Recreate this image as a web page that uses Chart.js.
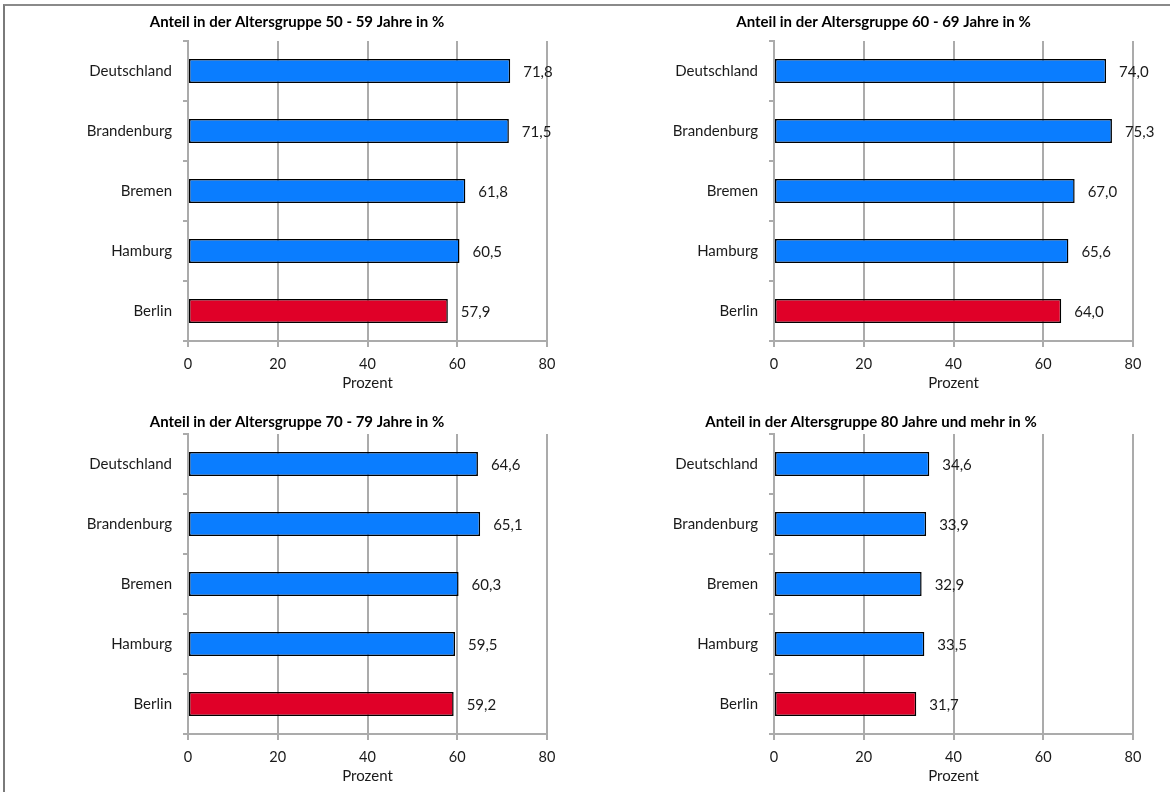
<!DOCTYPE html>
<html lang="de">
<head>
<meta charset="utf-8">
<title>Anteil nach Altersgruppen</title>
<script src="https://cdn.jsdelivr.net/npm/chart.js@4.4.1/dist/chart.umd.min.js"></script>
<style>
  html, body { margin: 0; padding: 0; background: #ffffff; }
  body { width: 1170px; height: 792px; position: relative; overflow: hidden; }
  #frame { position: absolute; left: 3px; top: 4px; width: 1200px; height: 800px;
           border-left: 2px solid #7a7a7a; border-top: 2px solid #8a8a8a; box-sizing: border-box; }
  canvas { position: absolute; }
</style>
</head>
<body>
<div id="frame"></div>
<canvas id="c1"></canvas>
<canvas id="c2"></canvas>
<canvas id="c3"></canvas>
<canvas id="c4"></canvas>
<script>
// Regions shown in every panel, top to bottom
const categories = ['Deutschland', 'Brandenburg', 'Bremen', 'Hamburg', 'Berlin'];

// Share per age group in percent
const values5059 = [71.8, 71.5, 61.8, 60.5, 57.9];
const values6069 = [74.0, 75.3, 67.0, 65.6, 64.0];
const values7079 = [64.6, 65.1, 60.3, 59.5, 59.2];
const values80plus = [34.6, 33.9, 32.9, 33.5, 31.7];

const panelTitles = [
  'Anteil in der Altersgruppe 50 - 59 Jahre in %',
  'Anteil in der Altersgruppe 60 - 69 Jahre in %',
  'Anteil in der Altersgruppe 70 - 79 Jahre in %',
  'Anteil in der Altersgruppe 80 Jahre und mehr in %'
];
const xTicks = [0, 20, 40, 60, 80];
const xAxisTitle = 'Prozent';

const FONT = 'Lato, "Open Sans", sans-serif';
const BLUE = '#0a7dff';
const RED = '#e00028';
const GRID = '#ababab';
const TEXT = '#1a1a1a';

// Berlin is highlighted in red
const barColors = categories.map(c => c === 'Berlin' ? RED : BLUE);

const fmt = v => v.toFixed(1).replace('.', ',');

// Value labels written to the right of each bar
const valueLabels = {
  id: 'valueLabels',
  afterDatasetsDraw(chart) {
    const ctx = chart.ctx;
    const meta = chart.getDatasetMeta(0);
    const data = chart.data.datasets[0].data;
    ctx.save();
    ctx.font = '15px ' + FONT;
    ctx.fillStyle = TEXT;
    ctx.textAlign = 'left';
    ctx.textBaseline = 'middle';
    meta.data.forEach((bar, i) => {
      ctx.fillText(fmt(data[i]), bar.x + 13, bar.y + 1);
    });
    ctx.restore();
  }
};

// Panel geometry: canvas box, paddings, width of the category axis
const panels = [
  { id: 'c1', values: values5059,  title: panelTitles[0], left: 0,   top: 0,   w: 594, h: 396, pl: 47, yw: 141, pr: 47, pb: 4, tpt: 13, tpb: 10 },
  { id: 'c2', values: values6069,  title: panelTitles[1], left: 596, top: 0,   w: 574, h: 396, pl: 38, yw: 140, pr: 37, pb: 4, tpt: 13, tpb: 10 },
  { id: 'c3', values: values7079,  title: panelTitles[2], left: 0,   top: 396, w: 594, h: 396, pl: 47, yw: 141, pr: 47, pb: 7, tpt: 17, tpb: 3 },
  { id: 'c4', values: values80plus, title: panelTitles[3], left: 572, top: 396, w: 598, h: 396, pl: 37, yw: 165, pr: 37, pb: 7, tpt: 17, tpb: 3 }
];

panels.forEach(p => {
  const canvas = document.getElementById(p.id);
  canvas.width = p.w;
  canvas.height = p.h;
  canvas.style.left = p.left + 'px';
  canvas.style.top = p.top + 'px';
  canvas.style.width = p.w + 'px';
  canvas.style.height = p.h + 'px';

  new Chart(canvas, {
    type: 'bar',
    data: {
      labels: categories,
      datasets: [{
        data: p.values,
        backgroundColor: barColors,
        borderColor: '#000000',
        borderWidth: 1.5,
        borderSkipped: false,
        categoryPercentage: 1.0,
        barPercentage: 0.4
      }]
    },
    options: {
      indexAxis: 'y',
      responsive: false,
      animation: false,
      devicePixelRatio: 1,
      layout: { padding: { left: p.pl, top: 0, right: p.pr, bottom: p.pb } },
      plugins: {
        legend: { display: false },
        tooltip: { enabled: false },
        title: {
          display: true,
          text: p.title,
          color: '#000000',
          font: { family: FONT, size: 15, weight: 'bold', lineHeight: 1.2 },
          padding: { top: p.tpt, bottom: p.tpb }
        }
      },
      scales: {
        x: {
          type: 'linear',
          min: 0,
          max: 80,
          afterBuildTicks(scale) { scale.ticks = xTicks.map(v => ({ value: v })); },
          afterFit(scale) { scale.height = 51; },
          grid: { color: GRID, lineWidth: 2, drawTicks: true, tickLength: 6, tickColor: GRID },
          border: { display: true, color: GRID, width: 2 },
          ticks: { color: TEXT, font: { family: FONT, size: 14.5 }, padding: 9 },
          title: { display: true, text: xAxisTitle, color: TEXT, font: { family: FONT, size: 15, lineHeight: 1.2 }, padding: { top: 0, bottom: 0 } }
        },
        y: {
          type: 'category',
          offset: true,
          afterFit(scale) { scale.width = p.yw; },
          grid: { offset: true, drawOnChartArea: false, drawTicks: true, tickLength: 5, color: GRID, lineWidth: 2 },
          border: { display: true, color: GRID, width: 2 },
          ticks: { color: TEXT, font: { family: FONT, size: 15 }, padding: 11 }
        }
      }
    },
    plugins: [valueLabels]
  });
});
</script>
</body>
</html>
